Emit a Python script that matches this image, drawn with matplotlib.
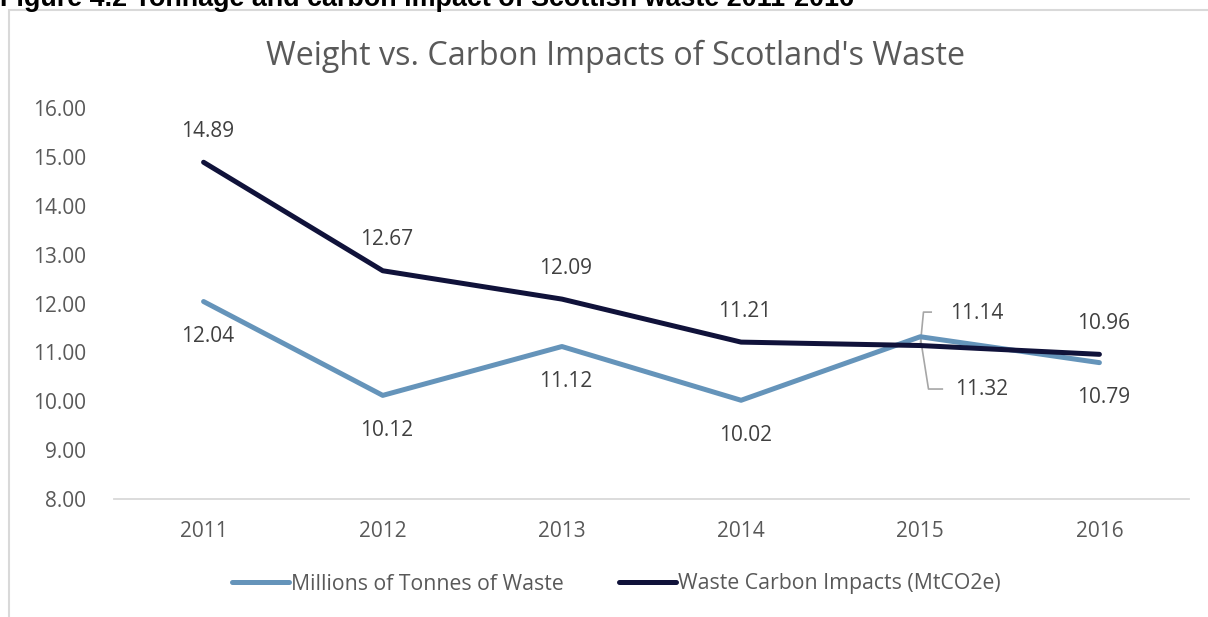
import matplotlib
matplotlib.use("Agg")
import matplotlib.pyplot as plt
from matplotlib.patches import Rectangle

years = ["2011", "2012", "2013", "2014", "2015", "2016"]
tonnes = [12.04, 10.12, 11.12, 10.02, 11.32, 10.79]
carbon = [14.89, 12.67, 12.09, 11.21, 11.14, 10.96]
yticks = [8, 9, 10, 11, 12, 13, 14, 15, 16]
series_names = ["Millions of Tonnes of Waste", "Waste Carbon Impacts (MtCO2e)"]
title = "Weight vs. Carbon Impacts of Scotland's Waste"
header = "Figure 4.2 Tonnage and carbon impact of Scottish waste 2011-2016"

BLUE = "#6594BA"
NAVY = "#10123A"
GREY = "#595959"
LABC = "#404040"
FONT = "Open Sans"
FS = 15

W, H = 1208, 617
fig = plt.figure(figsize=(W / 100, H / 100), dpi=100)

# chart border
fig.patches.append(Rectangle((9 / W, -0.2), 1.5, 1.2 - 10 / H, transform=fig.transFigure,
                             fill=False, edgecolor="#D9D9D9", lw=1.5, zorder=0))
fig.text(0, 1 - 6 / H, header, fontsize=19.4, fontweight="bold", family="Liberation Sans",
         ha="left", va="baseline", color="black")

ax = fig.add_axes([114 / W, 1 - 499 / H, 1075 / W, 391 / H])
x = list(range(len(years)))
l1, = ax.plot(x, tonnes, color=BLUE, lw=3.6, solid_capstyle="round", solid_joinstyle="round", zorder=3)
l2, = ax.plot(x, carbon, color=NAVY, lw=3.6, solid_capstyle="round", solid_joinstyle="round", zorder=4)

ax.set_xlim(-0.5, 5.5)
ax.set_ylim(8, 16)
ax.set_xticks(x)
ax.set_xticklabels(years)
ax.set_yticks(yticks)
ax.set_yticklabels([f"{v:.2f}" for v in yticks])
for s in ["top", "right", "left"]:
    ax.spines[s].set_visible(False)
ax.spines["bottom"].set_color("#D9D9D9")
ax.spines["bottom"].set_linewidth(1.3)
ax.tick_params(axis="both", length=0, labelsize=FS, labelcolor=GREY)
ax.tick_params(axis="y", pad=20)
ax.tick_params(axis="x", pad=16)
for lab in ax.get_xticklabels() + ax.get_yticklabels():
    lab.set_family(FONT)

fig.text(615 / W, 1 - 65 / H, title, fontsize=23.2, color=GREY, family=FONT, ha="center", va="baseline")

lab_kw = dict(fontsize=FS, color=LABC, family=FONT, ha="center", va="center",
              textcoords="offset pixels")
for i, v in enumerate(carbon):
    if i == 4:
        continue
    ax.annotate(f"{v:.2f}", (i, v), xytext=(4, 31), **lab_kw)
for i, v in enumerate(tonnes):
    if i == 4:
        continue
    ax.annotate(f"{v:.2f}", (i, v), xytext=(4, -35), **lab_kw)

# 2015 labels with leader lines
ax.annotate(f"{carbon[4]:.2f}", (4, carbon[4]), xytext=(4.314, 11.80), textcoords="data",
            fontsize=FS, color=LABC, family=FONT, ha="center", va="center")
ax.annotate(f"{tonnes[4]:.2f}", (4, tonnes[4]), xytext=(4.342, 10.25), textcoords="data",
            fontsize=FS, color=LABC, family=FONT, ha="center", va="center")
ax.plot([4.061, 4.018, 4.0], [11.824, 11.824, carbon[4]], color="#A6A6A6", lw=1.2, zorder=2)
ax.plot([4.123, 4.046, 4.0], [10.25, 10.25, tonnes[4]], color="#A6A6A6", lw=1.2, zorder=2)

LFS = 15.3
leg = fig.legend([l1, l2], series_names, loc="center", bbox_to_anchor=(616.5 / W, 1 - 584 / H),
                 ncol=2, frameon=False, handlelength=2.65, handletextpad=0.12, columnspacing=2.6,
                 prop={"family": FONT, "size": LFS})
for t in leg.get_texts():
    t.set_color(GREY)

fig.savefig("out.png", dpi=100)
